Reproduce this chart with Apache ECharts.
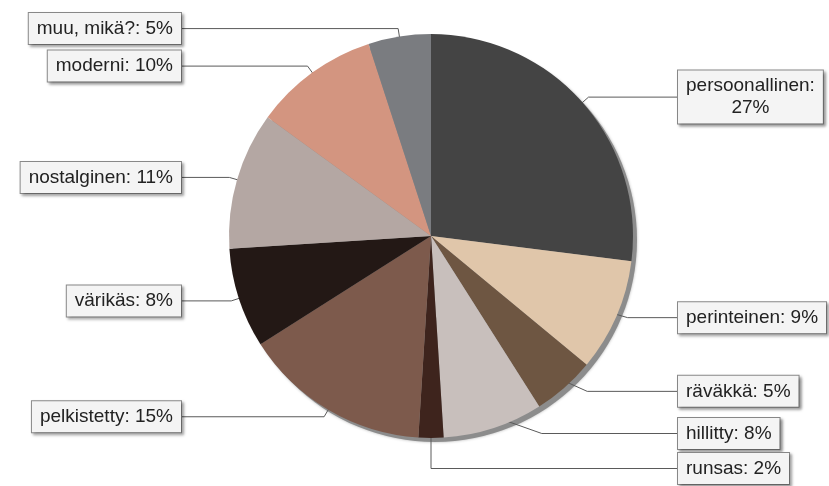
<!DOCTYPE html>
<html>
<head>
<meta charset="utf-8">
<script src="https://cdn.jsdelivr.net/npm/echarts@6/dist/echarts.min.js"></script>
<style>
html,body{margin:0;padding:0;background:#fff;}
#c{width:829px;height:486px;}
</style>
</head>
<body>
<div id="c"></div>
<script>
const categories = ['persoonallinen', 'perinteinen', 'räväkkä', 'hillitty', 'runsas', 'pelkistetty', 'värikäs', 'nostalginen', 'moderni', 'muu, mikä?'];
const values = [27, 9, 5, 8, 2, 15, 8, 11, 10, 5];
const colors = ['#444444', '#e0c6aa', '#6e5642', '#c8bfbc', '#3e241d', '#7d5a4c', '#231815', '#b4a7a3', '#d39580', '#7a7c80'];

const CX = 431, CY = 236, R = 202;
const LEFT_COL = 182;   // right edge of left-side label boxes
const RIGHT_COL = 677;  // left edge of right-side label boxes
const INSET = 14;       // label lines start a little inside the slice

const data = categories.map((n, i) => {
  const item = { name: n, value: values[i], itemStyle: { color: colors[i] } };
  if (n === 'persoonallinen') {
    item.label = { formatter: '{b}:\n{c}%' };
  }
  return item;
});

const chart = echarts.init(document.getElementById('c'), null, { renderer: 'canvas' });
chart.setOption({
  animation: false,
  series: [
    {
      type: 'pie',
      silent: true,
      left: 0, top: 0, width: 829, height: 486,
      center: [CX + 4, CY + 4],
      radius: R,
      data: [{ value: 100, name: 'shadow' }],
      itemStyle: { color: '#8c8c8c', shadowBlur: 3, shadowColor: 'rgba(0,0,0,0.3)' },
      label: { show: false },
      labelLine: { show: false },
      z: 1
    },
    {
      type: 'pie',
      left: 0, top: 0, width: 1400, height: 486,
      center: [CX, CY],
      radius: R,
      startAngle: 90,
      clockwise: true,
      data: data,
      z: 2,
      itemStyle: { borderWidth: 0 },
      label: {
        show: true,
        position: 'outside',
        formatter: '{b}: {c}%',
        fontFamily: 'Liberation Sans',
        fontSize: 19,
        color: '#222',
        lineHeight: 22,
        backgroundColor: '#f4f4f4',
        borderColor: '#8a8a8a',
        borderWidth: 1,
        padding: [5, 8, 4, 8],
        shadowColor: 'rgba(0,0,0,0.35)',
        shadowOffsetX: 2,
        shadowOffsetY: 2,
        shadowBlur: 3,
        distanceToLabelLine: 0
      },
      labelLine: {
        show: true,
        length: 8,
        length2: 30,
        lineStyle: { color: '#5a5a5a', width: 1 }
      },
      labelLayout: function (p) {
        const pts = p.labelLinePoints;
        if (!pts) return {};
        const w = p.labelRect.width;
        const isLeft = pts[2][0] < CX;
        const endX = isLeft ? LEFT_COL : RIGHT_COL;
        const y = pts[2][1];
        const dx = pts[0][0] - CX, dy = pts[0][1] - CY;
        const d = Math.sqrt(dx * dx + dy * dy) || 1;
        const start = [pts[0][0] - dx / d * INSET, pts[0][1] - dy / d * INSET];
        return {
          x: isLeft ? endX - w / 2 : endX + w / 2,
          y: y,
          align: 'center',
          verticalAlign: 'middle',
          labelLinePoints: [start, [pts[1][0], y], [endX, y]]
        };
      }
    }
  ]
});
</script>
</body>
</html>
